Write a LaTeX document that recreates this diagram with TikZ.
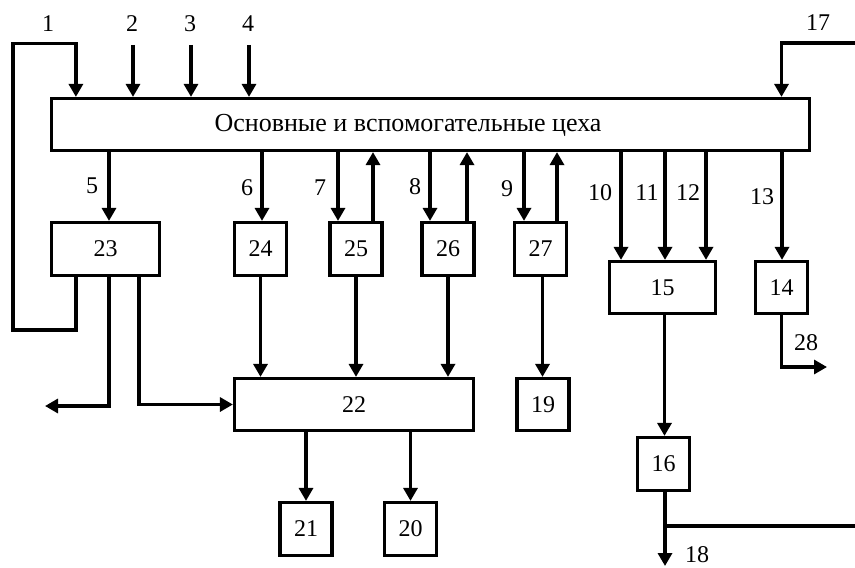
\documentclass[tikz,border=0pt]{standalone}
\usepackage{fontspec}
\setmainfont{Liberation Serif}
\usetikzlibrary{arrows.meta, calc}

\begin{document}
\begin{tikzpicture}[
    x=0.5pt, y=-0.5pt,
    >={Triangle[width=7pt, length=6.5pt]},
    box/.style={draw, line width=1.6pt, inner sep=0pt, minimum width=26pt,
        minimum height=26.5pt, font=\fontsize{12}{14}\selectfont},
    num/.style={inner sep=0pt, font=\fontsize{12}{14}\selectfont},
    arrow/.style={->, line width=1.6pt},
    wire/.style={line width=1.6pt},
]
\useasboundingbox (0,0) rectangle (855,567);

% ============================================================
%  Main block
% ============================================================
\node[box, minimum width=379pt, minimum height=26pt] (main) at (430.5,124.5) {};
\node[font=\fontsize{13}{15}\selectfont, inner sep=0pt] (mainlbl) at (408,125)
    {Основные и вспомогательные цеха};

% ============================================================
%  Boxes
% ============================================================
\node[box, minimum width=54pt] (b23) at (105.5,249) {23};
\node[box] (b24) at (260.5,249) {24};
\node[box] (b25) at (356,249) {25};
\node[box] (b26) at (448,249) {26};
\node[box] (b27) at (540.5,249) {27};
\node[box, minimum width=53pt, minimum height=26pt] (b15) at (662.5,287.5) {15};
\node[box, minimum height=26pt] (b14) at (781.5,287.5) {14};

\node[box, minimum width=119.5pt, minimum height=26pt] (b22) at (354,404.5) {22};
\node[box, minimum height=26pt] (b19) at (543,404.5) {19};
\node[box] (b16) at (663.5,464) {16};
\node[box] (b21) at (306,529) {21};
\node[box] (b20) at (410.5,529) {20};

% ============================================================
%  Inputs into the main block
% ============================================================
\foreach \n/\xp in {2/133, 3/191, 4/249} {
    \node[num] (lab\n) at (\xp-1,24) {\n};
    \coordinate (in\n) at (\xp,45);
    \draw[arrow] (in\n) -- (in\n |- main.north);
}
\node[num] (lab1) at (48,24) {1};
\draw[arrow] ($(b23.south west)+(26,0)$) |- (13,330)
    |- ($(main.north west)+(26,-53)$) -- ($(main.north west)+(26,0)$);

\node[num] (lab17) at (818,23) {17};
\coordinate (in17) at (855,43);
\draw[arrow] (in17) -| (main.north -| b14);

% ============================================================
%  Flows out of / back into the main block
% ============================================================
\foreach \b/\dx [count=\i] in {b23/3.5, b24/1.5, b25/-18, b26/-18, b27/-16.5,
        b15/-41.5, b15/2.5, b15/43.5, b14/0.5} {
    \path ($(\b.north)+(\dx,0)$) coordinate (d\i);
    \draw[arrow] (d\i |- main.south) -- (d\i);
}
\foreach \b/\dx [count=\i] in {b25/17, b26/19, b27/16.5} {
    \path ($(\b.north)+(\dx,0)$) coordinate (u\i);
    \draw[arrow] (u\i) -- (u\i |- main.south);
}
\foreach \n/\xp/\yp in {5/92/186, 6/247/188, 7/320/188, 8/415/187, 9/507/189,
        10/600/193, 11/647/193, 12/688/193, 13/762/197} {
    \node[num] (lab\n) at (\xp,\yp) {\n};
}

% ============================================================
%  Lower connections
% ============================================================
\coordinate (out23) at (45,406);
\draw[arrow] ($(b23.south)+(3.5,0)$) |- (out23);
\draw[arrow] ($(b23.south)+(33.5,0)$) |- (b22.west);

\draw[arrow] (b24.south) -- (b24.south |- b22.north);
\draw[arrow] (b25.south) -- (b25.south |- b22.north);
\draw[arrow] (b26.south) -- (b26.south |- b22.north);
\draw[arrow] ($(b27.south)+(2,0)$) -- ($(b19.north)+(-0.5,0)$);

\draw[arrow] (b22.south -| b21) -- (b21.north);
\draw[arrow] (b22.south -| b20) -- (b20.north);

\coordinate (out28) at (827,367);
\draw[arrow] (b14.south) |- (out28);
\node[num] (lab28) at (806,343) {28};

\draw[arrow] ($(b15.south)+(2,0)$) -- ($(b16.north)+(1,0)$);

\coordinate (out18) at (665,566);
\coordinate (outR) at (855,526);
\draw[arrow] ($(b16.south)+(1.5,0)$) -- (out18);
\draw[wire] (outR -| out18) -- (outR);
\node[num] (lab18) at (697,555) {18};

\end{tikzpicture}
\end{document}
